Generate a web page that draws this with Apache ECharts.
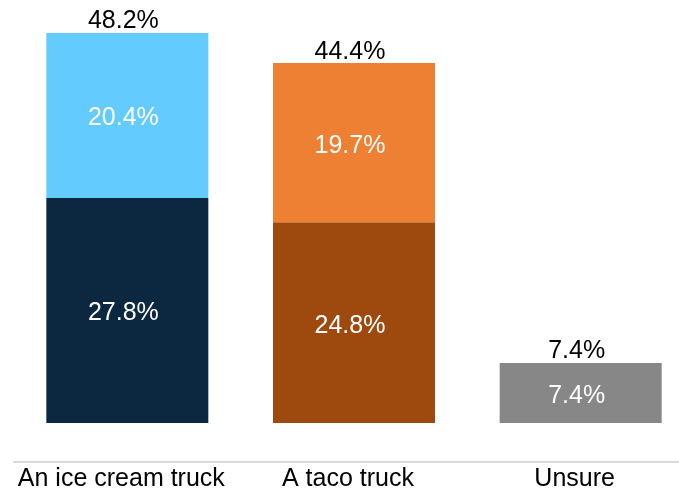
<!DOCTYPE html>
<html>
<head>
<meta charset="utf-8">
<style>
  html, body { margin: 0; padding: 0; background: #ffffff; }
  #chart { width: 679px; height: 492px; }
</style>
<script src="https://cdn.jsdelivr.net/npm/echarts@6/dist/echarts.min.js"></script>
</head>
<body>
<div id="chart"></div>
<script>
// Answers by category
const categories = ['An ice cream truck', 'A taco truck', 'Unsure'];
// Lower (darker) segment of each bar
const lowerValues = [27.8, 24.8, 7.4];
const lowerColors = ['#0c2840', '#9e490e', '#878787'];
// Upper (lighter) segment of each bar
const upperValues = [20.4, 19.7, null];
const upperColors = ['#63cbfd', '#ee8033', '#878787'];
// Totals printed above each bar
const totalValues = [48.2, 44.4, 7.4];

const FONT = 'Liberation Sans, Arial, Helvetica, sans-serif';
const SIZE = 25;
const pct = v => v.toFixed(1) + '%';

const chart = echarts.init(document.getElementById('chart'), null, { renderer: 'canvas' });

const segmentLabel = {
  show: true, position: 'inside', color: '#ffffff',
  fontFamily: FONT, fontSize: SIZE, offset: [-4, 3],
  formatter: p => pct(p.value)
};

chart.setOption({
  animation: false,
  backgroundColor: '#ffffff',
  grid: {
    left: 14, width: 680, top: 18.5, bottom: 30.2,
    containLabel: false, outerBoundsMode: 'none'
  },
  xAxis: {
    type: 'category',
    data: categories,
    axisLine: { show: true, onZero: false, lineStyle: { color: '#d9d9d9', width: 2 } },
    axisTick: { show: false },
    axisLabel: {
      color: '#000000', fontFamily: FONT, fontSize: SIZE, margin: 5, interval: 0,
      padding: [0, 12, 0, 0]
    }
  },
  yAxis: {
    type: 'value',
    min: -4.8,
    max: 50,
    show: false,
    splitLine: { show: false }
  },
  series: [
    {
      name: 'lower',
      type: 'bar',
      stack: 'total',
      barWidth: 162,
      data: lowerValues.map((v, i) => ({ value: v, itemStyle: { color: lowerColors[i] } })),
      label: segmentLabel
    },
    {
      name: 'upper',
      type: 'bar',
      stack: 'total',
      barWidth: 162,
      data: upperValues.map((v, i) => ({ value: v, itemStyle: { color: upperColors[i] } })),
      label: segmentLabel
    },
    {
      name: 'total',
      type: 'line',
      data: totalValues,
      symbol: 'circle',
      symbolSize: 1,
      showSymbol: true,
      itemStyle: { color: 'rgba(0,0,0,0)' },
      lineStyle: { opacity: 0 },
      silent: true,
      label: {
        show: true, position: 'top', distance: 0, offset: [-4, 1], color: '#000000',
        fontFamily: FONT, fontSize: SIZE,
        formatter: p => pct(p.value)
      }
    }
  ]
});
</script>
</body>
</html>
